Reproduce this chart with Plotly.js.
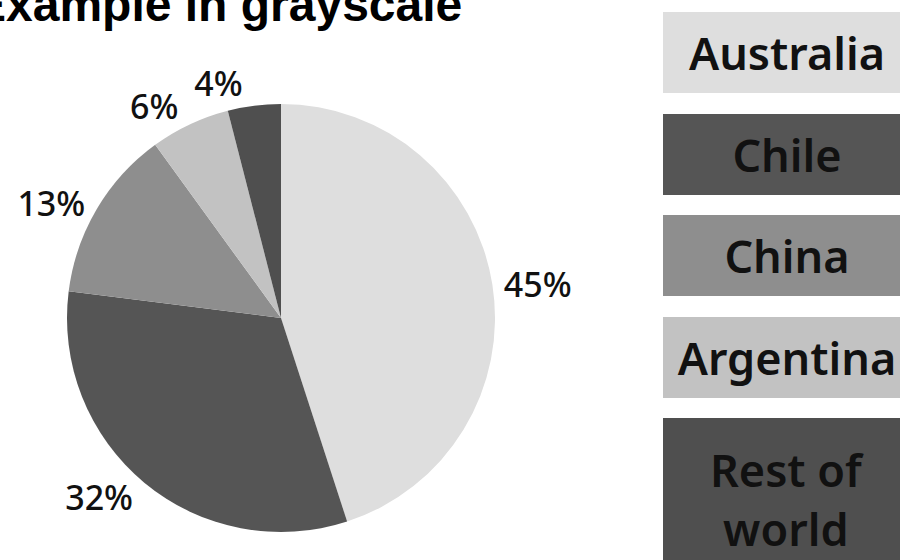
<!DOCTYPE html>
<html>
<head>
<meta charset="utf-8">
<script src="https://cdn.plot.ly/plotly-3.0.1.min.js"></script>
<style>html,body{margin:0;padding:0;background:#fff;}#chart{width:900px;height:560px;}</style>
</head>
<body>
<div id="chart"></div>
<script>
const categories = ["Australia", "Chile", "China", "Argentina", "Rest of world"];
const legendLabels = ["Australia", "Chile", "China", "Argentina", "Rest of<br>world"];
const shares = [45, 32, 13, 6, 4];
const colors = ["#dedede", "#555555", "#8e8e8e", "#c2c2c2", "#4f4f4f"];

const W = 900, H = 560;
const cx = 281, cy = 318, r = 214;
const domain = {
  x: [(cx - r) / W, (cx + r) / W],
  y: [(H - cy - r) / H, (H - cy + r) / H]
};
const labelFont = { family: "Noto Sans", size: 34, color: "#111", weight: 500 };

// main pie: all slices, labels for the larger ones
const mainTrace = {
  type: "pie",
  labels: categories,
  values: shares,
  sort: false,
  direction: "clockwise",
  rotation: 0,
  marker: { colors: colors, line: { width: 0 } },
  textposition: categories.map((c, i) => i === categories.length - 1 ? "none" : "outside"),
  texttemplate: "%{percent:.0%}",
  outsidetextfont: labelFont,
  hoverinfo: "label+percent",
  showlegend: false,
  automargin: false,
  domain: domain
};

// overlay pie (transparent) carrying only the smallest slice's label,
// so it is not pushed away from its slice by its neighbour's label
const smallLabelTrace = {
  type: "pie",
  labels: categories,
  values: shares,
  sort: false,
  direction: "clockwise",
  rotation: 0,
  marker: { colors: categories.map(() => "rgba(0,0,0,0)"), line: { width: 0 } },
  textposition: categories.map((c, i) => i === categories.length - 1 ? "outside" : "none"),
  texttemplate: "%{percent:.0%}",
  outsidetextfont: labelFont,
  hoverinfo: "skip",
  showlegend: false,
  automargin: false,
  domain: domain
};

const boxTop0 = 12, boxStep = 101.5, boxH = 81, boxLeft = 663, boxW = 248;
const annotations = legendLabels.map((lab, i) => {
  const h = i === legendLabels.length - 1 ? boxH * 2 : boxH;
  const top = boxTop0 + i * boxStep;
  return {
    xref: "paper", yref: "paper",
    x: boxLeft / W, y: 1 - top / H,
    xanchor: "left", yanchor: "top",
    width: boxW, height: h,
    text: lab,
    showarrow: false,
    bgcolor: colors[i],
    borderpad: 0,
    borderwidth: 0,
    align: "center", valign: "middle",
    font: { family: "Noto Sans", size: 45, color: "#111", weight: 600 }
  };
});

annotations.push({
  xref: "paper", yref: "paper",
  x: -28 / W, xanchor: "left",
  y: 1 - 5 / H, yanchor: "middle",
  text: "<b>Example in grayscale</b>",
  showarrow: false,
  font: { family: "Liberation Sans", size: 48, color: "#000" }
});

const layout = {
  width: W, height: H,
  margin: { l: 0, r: 0, t: 0, b: 0 },
  paper_bgcolor: "#fff",
  annotations: annotations
};

Plotly.newPlot("chart", [mainTrace, smallLabelTrace], layout, { displayModeBar: false, staticPlot: true });
</script>
</body>
</html>
